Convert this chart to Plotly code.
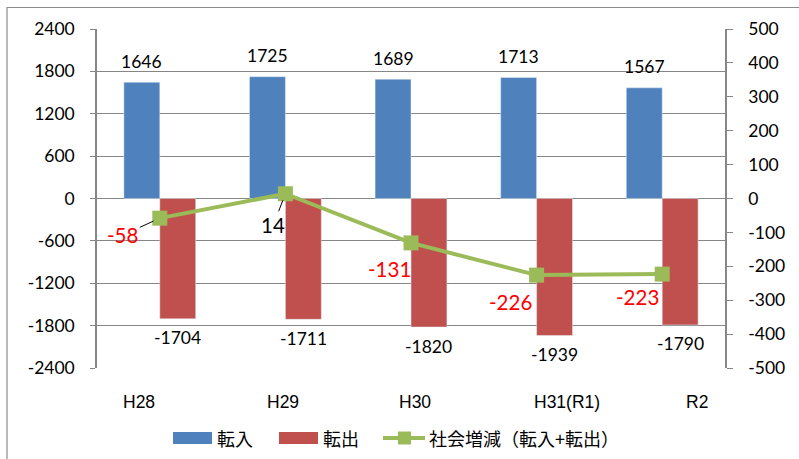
import plotly.graph_objects as go

categories = ["H28", "H29", "H30", "H31(R1)", "R2"]
tennyu = [1646, 1725, 1689, 1713, 1567]
tenshutsu = [-1704, -1711, -1820, -1939, -1790]
shakai = [-58, 14, -131, -226, -223]
left_ticks = [-2400, -1800, -1200, -600, 0, 600, 1200, 1800, 2400]
right_ticks = [-500, -400, -300, -200, -100, 0, 100, 200, 300, 400, 500]

BLUE = "#4F81BD"
RED = "#C0504D"
GREEN = "#9BBB59"
GRID = "#868686"

W, H = 799, 459
ML, MR, MT, MB = 97, 74, 29, 91
PW, PH = W - ML - MR, H - MT - MB


def px2x(px):
    return (px - ML) / PW


def py2y(py):
    return (H - MB - py) / PH


xs = list(range(len(categories)))
BW = 0.286

fig = go.Figure()
fig.add_trace(go.Bar(x=xs, y=tennyu, name="転入", marker_color=BLUE,
                     width=BW, offset=-BW, showlegend=False))
fig.add_trace(go.Bar(x=xs, y=tenshutsu, name="転出", marker_color=RED,
                     width=BW, offset=0, showlegend=False))
fig.add_trace(go.Scatter(x=xs, y=shakai, name="社会増減（転入+転出）", yaxis="y2",
                         mode="lines+markers",
                         line=dict(color=GREEN, width=4),
                         marker=dict(symbol="square", size=15, color=GREEN),
                         showlegend=False, cliponaxis=False))

num_font = dict(family="Lato, Liberation Sans, sans-serif", size=17.5, color="#000000")
ann = []
# bar labels
for i, v in enumerate(tennyu):
    ann.append(dict(x=i - BW / 2, y=v, xref="x", yref="y", text=str(v), showarrow=False,
                    yshift=21, font=num_font))
for i, v in enumerate(tenshutsu):
    ann.append(dict(x=i + BW / 2, y=v, xref="x", yref="y", text=str(v), showarrow=False,
                    yshift=-19, font=num_font))
# line labels
lab_dx = [-37, -12, -22, -26, -25]
lab_dy = [17, 31, 26, 27, 23]
leader = [True, True, False, False, False]
for i, v in enumerate(shakai):
    col = "#FF0000" if v < 0 else "#000000"
    f = dict(family="Lato, Liberation Sans, sans-serif", size=20.5, color=col)
    if leader[i]:
        ann.append(dict(x=i, y=v, xref="x", yref="y2", text=str(v), showarrow=True,
                        arrowhead=0, arrowwidth=1, arrowcolor="#000000",
                        ax=lab_dx[i], ay=lab_dy[i], standoff=7, font=f))
    else:
        ann.append(dict(x=i, y=v, xref="x", yref="y2", text=str(v), showarrow=False,
                        xshift=lab_dx[i], yshift=-lab_dy[i], font=f))
# category labels
cat_shift = [-21, -2, 4, 30, 35]
for i, c in enumerate(categories):
    ann.append(dict(x=i, y=py2y(402), xref="x", yref="paper", text=c, showarrow=False,
                    xshift=cat_shift[i], yanchor="middle",
                    font=dict(family="Liberation Sans, Arial, sans-serif", size=17.5, color="#000000")))

# manual legend
leg_font = dict(family="Noto Sans CJK JP, sans-serif", size=18, color="#000000")
shapes = []
ly = 438
shapes.append(dict(type="rect", xref="paper", yref="paper", x0=px2x(173), x1=px2x(212),
                   y0=py2y(444), y1=py2y(432), fillcolor=BLUE, line=dict(width=0)))
ann.append(dict(x=px2x(215), y=py2y(ly), xref="paper", yref="paper", text="転入",
                showarrow=False, xanchor="left", yanchor="middle", font=leg_font))
shapes.append(dict(type="rect", xref="paper", yref="paper", x0=px2x(279), x1=px2x(318),
                   y0=py2y(444), y1=py2y(432), fillcolor=RED, line=dict(width=0)))
ann.append(dict(x=px2x(321), y=py2y(ly), xref="paper", yref="paper", text="転出",
                showarrow=False, xanchor="left", yanchor="middle", font=leg_font))
shapes.append(dict(type="line", xref="paper", yref="paper", x0=px2x(383), x1=px2x(425),
                   y0=py2y(ly), y1=py2y(ly), line=dict(color=GREEN, width=4)))
shapes.append(dict(type="rect", xref="paper", yref="paper", x0=px2x(398), x1=px2x(411),
                   y0=py2y(ly + 6.5), y1=py2y(ly - 6.5), fillcolor=GREEN, line=dict(width=0)))
ann.append(dict(x=px2x(427), y=py2y(ly), xref="paper", yref="paper", text="社会増減（転入+転出）",
                showarrow=False, xanchor="left", yanchor="middle", font=leg_font))

# outer frame (top/left visible)
shapes.append(dict(type="rect", xref="paper", yref="paper", x0=px2x(7), x1=px2x(810),
                   y0=py2y(470), y1=py2y(7.5), line=dict(color="#8C8C8C", width=1.2),
                   fillcolor="rgba(0,0,0,0)", layer="below"))

fig.update_layout(
    width=W, height=H,
    margin=dict(l=ML, r=MR, t=MT, b=MB),
    paper_bgcolor="white", plot_bgcolor="white",
    barmode="overlay",
    xaxis=dict(range=[-0.5, 4.5], showticklabels=False, showgrid=False, zeroline=False,
               showline=False, ticks=""),
    yaxis=dict(range=[-2400, 2400], tickvals=left_ticks, ticktext=[str(t) for t in left_ticks],
               showgrid=True, gridcolor=GRID, gridwidth=1, zeroline=True, zerolinecolor=GRID,
               zerolinewidth=1, showline=True, linecolor=GRID, linewidth=1.5,
               ticks="outside", ticklen=5, tickcolor=GRID, ticklabelstandoff=12,
               tickfont=num_font, mirror=False),
    yaxis2=dict(range=[-500, 500], tickvals=right_ticks, ticktext=[str(t) for t in right_ticks],
                overlaying="y", side="right", showgrid=False, zeroline=False,
                showline=True, linecolor=GRID, linewidth=1.5, ticks="outside", ticklen=6,
                tickcolor=GRID, ticklabelstandoff=12, tickfont=num_font),
    annotations=ann, shapes=shapes,
    showlegend=False,
)

fig.write_html("out.html", config={"displayModeBar": False},
               post_script="document.body.style.margin='0';document.body.style.padding='0';")
